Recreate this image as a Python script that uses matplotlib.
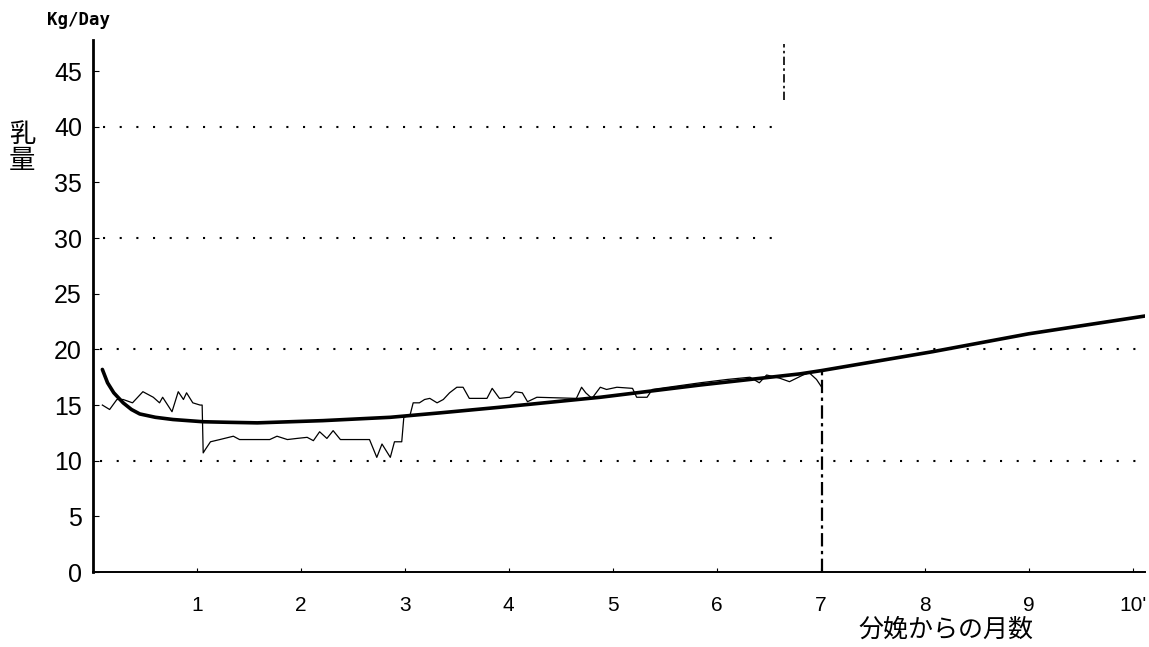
import matplotlib
matplotlib.use("Agg")
import matplotlib.pyplot as plt

# fitted lactation curve (thick line)
curve_month = [0.09, 0.14, 0.2, 0.29, 0.37, 0.45, 0.6, 0.77, 1.06, 1.3, 1.58, 2.21, 2.86, 3.34,
               3.91, 4.88, 5.84, 6.80, 7.01, 8.08, 9.0, 10.12]
curve_kg = [18.2, 17.0, 16.1, 15.2, 14.6, 14.2, 13.9, 13.7, 13.5, 13.45, 13.4, 13.6, 13.9, 14.3,
            14.8, 15.7, 16.8, 17.8, 18.1, 19.8, 21.4, 23.0]

# daily milk records (thin line)
daily_month = [0.09, 0.16, 0.23, 0.29, 0.38, 0.48, 0.58, 0.64, 0.67, 0.76, 0.82, 0.87,
               0.90, 0.96, 1.03, 1.05, 1.06, 1.08, 1.13, 1.22, 1.35, 1.41, 1.70, 1.77,
               1.87, 1.96, 2.06, 2.12, 2.18, 2.25, 2.31, 2.38, 2.66, 2.73, 2.78, 2.86,
               2.90, 2.97, 2.99, 3.05, 3.08, 3.14, 3.19, 3.24, 3.31, 3.37, 3.43, 3.50,
               3.56, 3.62, 3.79, 3.84, 3.91, 4.01, 4.06, 4.13, 4.18, 4.27, 4.65, 4.70,
               4.74, 4.80, 4.88, 4.94, 5.04, 5.19, 5.23, 5.33, 5.38, 5.84, 6.10, 6.32,
               6.41, 6.48, 6.61, 6.70, 6.83, 6.89, 6.96, 7.01]
daily_kg = [15.0, 14.6, 15.5, 15.5, 15.2, 16.2, 15.7, 15.2, 15.7, 14.4, 16.2, 15.5,
            16.1, 15.2, 15.0, 15.0, 10.7, 11.0, 11.7, 11.9, 12.2, 11.9, 11.9, 12.2,
            11.9, 12.0, 12.1, 11.8, 12.6, 12.0, 12.7, 11.9, 11.9, 10.3, 11.5, 10.3,
            11.7, 11.7, 13.9, 14.1, 15.2, 15.2, 15.5, 15.6, 15.2, 15.5, 16.1, 16.6,
            16.6, 15.6, 15.6, 16.5, 15.6, 15.7, 16.2, 16.1, 15.3, 15.7, 15.6, 16.6,
            16.1, 15.6, 16.6, 16.4, 16.6, 16.5, 15.7, 15.7, 16.4, 17.0, 17.3, 17.5,
            17.0, 17.7, 17.4, 17.1, 17.7, 17.9, 17.3, 16.6]

y_ticks = [0, 5, 10, 15, 20, 25, 30, 35, 40, 45]
y_tick_labels = ["0", "5", "10", "15", "20", "25", "30", "35", "40", "45"]
x_ticks = [1, 2, 3, 4, 5, 6, 7, 8, 9, 10]
x_tick_labels = ["1", "2", "3", "4", "5", "6", "7", "8", "9", "10'"]

full_grid = [10, 20]
short_grid = [30, 40]
short_grid_end = 6.6
cut_month = 7.01
cut_top = 18.1
mark_month = 6.65
mark_range = [42.4, 47.4]

fig = plt.figure(figsize=(11.49, 6.47), dpi=100)
ax = fig.add_axes([93 / 1149, 75 / 647, 1052 / 1149, 532 / 647])

dots = (0, (1, 7))
for g in full_grid:
    ax.plot([0.07, 10.05], [g, g], color="black", lw=1.5, linestyle=dots)
for g in short_grid:
    ax.plot([0.1, short_grid_end], [g, g], color="black", lw=1.5, linestyle=dots)

ax.plot(daily_month, daily_kg, color="black", lw=0.9)
ax.plot(curve_month, curve_kg, color="black", lw=2.6, solid_capstyle="round")

ax.plot([cut_month, cut_month], [0, cut_top], color="black", lw=1.6,
        linestyle=(0, (6, 2, 1.5, 2)))
ax.plot([mark_month, mark_month], mark_range, color="black", lw=1.2,
        linestyle=(0, (5, 2, 1.5, 2)))

ax.set_xlim(0, 10.12)
ax.set_ylim(0, 47.8)
ax.spines["top"].set_visible(False)
ax.spines["right"].set_visible(False)
ax.spines["left"].set_linewidth(2)
ax.spines["bottom"].set_linewidth(1.4)

ax.set_yticks(y_ticks)
ax.set_yticklabels(y_tick_labels, family=["Liberation Sans", "DejaVu Sans"], fontsize=18)
ax.set_xticks(x_ticks)
ax.set_xticklabels(x_tick_labels, family=["Liberation Sans", "DejaVu Sans"], fontsize=15)
ax.tick_params(axis="y", direction="in", length=4, pad=8)
ax.tick_params(axis="x", direction="in", length=3, pad=17)

fig.text(78 / 1149, 1 - 20 / 647, "Kg/Day", family="DejaVu Sans Mono", fontweight="bold",
         fontsize=12.5, ha="center", va="center")
fig.text(22 / 1149, 1 - 134 / 647, "乳", family=["Noto Sans CJK JP", "DejaVu Sans"],
         fontsize=19, ha="center", va="center")
fig.text(22 / 1149, 1 - 160 / 647, "量", family=["Noto Sans CJK JP", "DejaVu Sans"],
         fontsize=19, ha="center", va="center")
fig.text(946 / 1149, 1 - 630 / 647, "分娩からの月数", family=["Noto Sans CJK JP", "DejaVu Sans"],
         fontsize=18, ha="center", va="center")

fig.savefig("out.png", dpi=100)
